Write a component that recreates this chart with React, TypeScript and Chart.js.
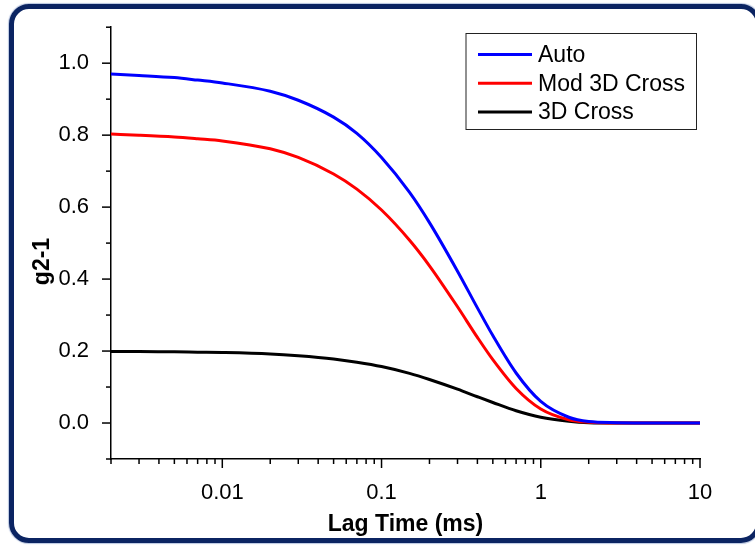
import React, { useEffect, useRef } from "react";
import { Chart, registerables } from "chart.js";

Chart.register(...registerables);

// ---- data ----
const lagTimes = [0.002, 0.003, 0.005, 0.007, 0.01, 0.02, 0.03, 0.05, 0.07, 0.1, 0.15, 0.2, 0.3, 0.4, 0.5, 0.7, 1, 1.5, 2, 3, 5, 10];
const autoValues = [0.970, 0.966, 0.960, 0.953, 0.945, 0.922, 0.897, 0.850, 0.805, 0.738, 0.641, 0.557, 0.422, 0.320, 0.243, 0.139, 0.060, 0.016, 0.004, 0.001, 0, 0];
const mod3DCrossValues = [0.803, 0.800, 0.795, 0.790, 0.784, 0.762, 0.738, 0.692, 0.650, 0.592, 0.508, 0.437, 0.323, 0.238, 0.176, 0.096, 0.039, 0.009, 0.002, 0, 0, 0];
const cross3DValues = [0.199, 0.199, 0.198, 0.197, 0.196, 0.192, 0.187, 0.178, 0.169, 0.157, 0.138, 0.121, 0.094, 0.073, 0.057, 0.034, 0.016, 0.005, 0.001, 0, 0, 0];

const seriesNames = ["Auto", "Mod 3D Cross", "3D Cross"];
const seriesColors = ["#0000ff", "#ff0000", "#000000"];

const xMin = 0.002;
const xMax = 10;
const yMin = -0.1;
const yMax = 1.1;
const yStep = 0.1;
const xTickLabels = ["0.01", "0.1", "1", "10"];

const xTitle = "Lag Time (ms)";
const yTitle = "g2-1";

const FONT = "'Liberation Sans', Arial, Helvetica, sans-serif";

function isDecade(v: number) {
  const l = Math.log10(v);
  return Math.abs(l - Math.round(l)) < 1e-9;
}

const axisTicksPlugin = {
  id: "axisTicks",
  afterDraw(chart: any) {
    const { ctx, chartArea, scales } = chart;
    ctx.save();
    ctx.strokeStyle = "#000";
    ctx.lineWidth = 1.5;
    const ys = scales.y;
    ys.ticks.forEach((t: any) => {
      const p = ys.getPixelForValue(t.value);
      const major = Math.round(t.value * 10) % 2 === 0;
      const len = major ? 9 : 5;
      ctx.beginPath();
      ctx.moveTo(chartArea.left - len, p);
      ctx.lineTo(chartArea.left, p);
      ctx.stroke();
    });
    const xs = scales.x;
    xs.ticks.forEach((t: any) => {
      const p = xs.getPixelForValue(t.value);
      const len = isDecade(t.value) ? 9 : 5;
      ctx.beginPath();
      ctx.moveTo(p, chartArea.bottom);
      ctx.lineTo(p, chartArea.bottom + len);
      ctx.stroke();
    });
    ctx.restore();
  },
};

const boxLegendPlugin = {
  id: "boxLegend",
  afterDraw(chart: any) {
    const { ctx } = chart;
    ctx.save();
    const left = 466, top = 33.5, w = 230.5, h = 96;
    ctx.fillStyle = "#fff";
    ctx.fillRect(left, top, w, h);
    ctx.strokeStyle = "#222";
    ctx.lineWidth = 1;
    ctx.strokeRect(left, top, w, h);
    ctx.font = `23px ${FONT}`;
    ctx.textBaseline = "middle";
    ctx.textAlign = "left";
    chart.data.datasets.forEach((ds: any, i: number) => {
      const y = 54.5 + i * 28.7;
      ctx.strokeStyle = ds.borderColor;
      ctx.lineWidth = 3;
      ctx.beginPath();
      ctx.moveTo(478, y);
      ctx.lineTo(532, y);
      ctx.stroke();
      ctx.fillStyle = "#000";
      ctx.fillText(ds.label, 538, y + 1);
    });
    ctx.restore();
  },
};

const yTitlePlugin = {
  id: "yTitle",
  afterDraw(chart: any) {
    const { ctx } = chart;
    ctx.save();
    ctx.translate(48.5, 261.5);
    ctx.rotate(-Math.PI / 2);
    ctx.font = `bold 23px ${FONT}`;
    ctx.fillStyle = "#000";
    ctx.textAlign = "center";
    ctx.textBaseline = "alphabetic";
    ctx.fillText(yTitle, 0, 0);
    ctx.restore();
  },
};

export default function App() {
  const canvasRef = useRef<HTMLCanvasElement | null>(null);

  useEffect(() => {
    document.body.style.margin = "0";
    const canvas = canvasRef.current;
    if (!canvas) return;
    const valueSets = [autoValues, mod3DCrossValues, cross3DValues];
    const chart = new Chart(canvas, {
      type: "line",
      data: {
        datasets: valueSets.map((vals, i) => ({
          label: seriesNames[i],
          data: lagTimes.map((x, j) => ({ x, y: vals[j] })),
          borderColor: seriesColors[i],
          backgroundColor: seriesColors[i],
          borderWidth: 3,
          pointRadius: 0,
          fill: false,
          cubicInterpolationMode: "monotone" as const,
        })),
      },
      options: {
        animation: false,
        responsive: false,
        maintainAspectRatio: false,
        devicePixelRatio: 1,
        layout: { padding: { top: 27, right: 55, left: 0, bottom: 0 } },
        plugins: {
          legend: { display: false },
          tooltip: { enabled: false },
        },
        scales: {
          x: {
            type: "logarithmic",
            min: xMin,
            max: xMax,
            afterBuildTicks: (scale: any) => {
              const ticks: any[] = [];
              for (let d = -3; d <= 1; d++) {
                for (let k = 1; k <= 9; k++) {
                  const v = parseFloat((k * Math.pow(10, d)).toPrecision(6));
                  if (v >= xMin - 1e-12 && v <= xMax + 1e-12) ticks.push({ value: v });
                }
              }
              scale.ticks = ticks;
            },
            afterFit: (scale: any) => {
              scale.height = 86;
            },
            grid: { display: false },
            border: { display: true, color: "#000", width: 1.5 },
            ticks: {
              autoSkip: false,
              maxRotation: 0,
              minRotation: 0,
              padding: 13,
              color: "#000",
              font: { family: FONT, size: 22 },
              callback: (value: any) => {
                const v = Number(value);
                if (!isDecade(v)) return "";
                const idx = Math.round(Math.log10(v)) + 2;
                return xTickLabels[idx] ?? "";
              },
            },
            title: {
              display: true,
              text: xTitle,
              color: "#000",
              font: { family: FONT, size: 23, weight: "bold" },
              padding: { top: 0, bottom: 7 },
            },
          },
          y: {
            type: "linear",
            min: yMin,
            max: yMax,
            afterFit: (scale: any) => {
              scale.width = 111;
            },
            grid: { display: false },
            border: { display: true, color: "#000", width: 1.5 },
            ticks: {
              stepSize: yStep,
              autoSkip: false,
              padding: 14,
              color: "#000",
              font: { family: FONT, size: 22 },
              callback: (value: any) => {
                const v = Number(value);
                const n = Math.round(v * 10);
                if (n % 2 !== 0 || n < 0 || n > 10) return "";
                return (n / 10).toFixed(1);
              },
            },
          },
        },
      } as any,
      plugins: [axisTicksPlugin, boxLegendPlugin, yTitlePlugin],
    });
    return () => chart.destroy();
  }, []);

  return (
    <div
      style={{
        position: "fixed",
        left: 0,
        top: 0,
        width: 755,
        height: 545,
        overflow: "hidden",
        background: "#fff",
      }}
    >
      <div
        style={{
          position: "absolute",
          left: 9,
          top: 4,
          width: 752,
          height: 539,
          boxSizing: "border-box",
          border: "5px solid #0b2462",
          borderRadius: 20,
          boxShadow: "0 0 1px 1px #b9c6e0",
        }}
      />
      <canvas
        ref={canvasRef}
        width={755}
        height={545}
        style={{ position: "absolute", left: 0, top: 0, width: 755, height: 545 }}
      />
    </div>
  );
}
